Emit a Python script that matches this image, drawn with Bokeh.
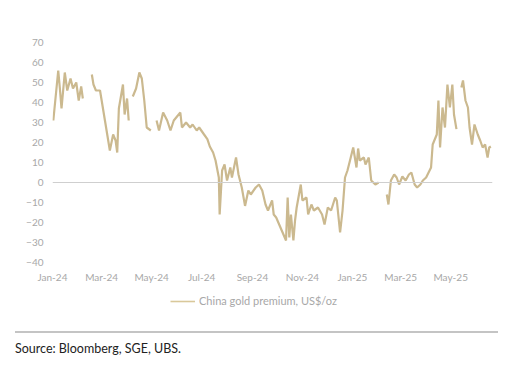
import numpy as np
import pandas as pd
from bokeh.plotting import figure
from bokeh.models import (FixedTicker, DatetimeTickFormatter, Span, Legend, LegendItem,
                          ColumnDataSource, Div, Range1d)
from bokeh.layouts import column
from bokeh.embed import file_html
from bokeh.resources import INLINE

nan = float("nan")

dates = [
    "2024-01-02", "2024-01-08", "2024-01-10", "2024-01-12", "2024-01-16", "2024-01-19",
    "2024-01-23", "2024-01-26", "2024-01-30", "2024-02-02", "2024-02-05", "2024-02-07",
    "2024-02-12", "2024-02-18", "2024-02-20", "2024-02-23", "2024-02-28", "2024-03-01",
    "2024-03-05", "2024-03-11", "2024-03-15", "2024-03-18", "2024-03-20", "2024-03-22",
    "2024-03-27", "2024-03-29", "2024-04-01", "2024-04-03", "2024-04-05", "2024-04-08",
    "2024-04-12", "2024-04-16", "2024-04-19", "2024-04-22", "2024-04-25", "2024-04-30",
    "2024-05-03", "2024-05-07", "2024-05-10", "2024-05-15", "2024-05-20", "2024-05-24",
    "2024-05-28", "2024-05-31", "2024-06-05", "2024-06-07", "2024-06-12", "2024-06-17",
    "2024-06-20", "2024-06-25", "2024-06-28", "2024-07-04", "2024-07-08", "2024-07-11",
    "2024-07-15", "2024-07-18", "2024-07-22", "2024-07-23", "2024-07-26", "2024-07-29",
    "2024-08-01", "2024-08-05", "2024-08-07", "2024-08-12", "2024-08-15", "2024-08-19",
    "2024-08-23", "2024-08-27", "2024-08-30", "2024-09-05", "2024-09-09", "2024-09-13",
    "2024-09-17", "2024-09-20", "2024-09-25", "2024-09-27", "2024-09-30", "2024-10-12",
    "2024-10-14", "2024-10-16", "2024-10-18", "2024-10-21", "2024-10-23", "2024-10-25",
    "2024-10-30", "2024-11-01", "2024-11-06", "2024-11-08", "2024-11-12", "2024-11-15",
    "2024-11-20", "2024-11-25", "2024-11-28", "2024-12-02", "2024-12-06", "2024-12-11",
    "2024-12-13", "2024-12-17", "2024-12-20", "2024-12-23", "2024-12-26", "2024-12-30",
    "2025-01-02", "2025-01-06", "2025-01-08", "2025-01-10", "2025-01-15", "2025-01-17",
    "2025-01-21", "2025-01-24", "2025-01-29", "2025-02-02", "2025-02-07", "2025-02-12",
    "2025-02-14", "2025-02-17", "2025-02-21", "2025-02-24", "2025-02-27", "2025-03-03",
    "2025-03-07", "2025-03-11", "2025-03-14", "2025-03-18", "2025-03-21", "2025-03-25",
    "2025-03-28", "2025-04-01", "2025-04-07", "2025-04-09", "2025-04-14", "2025-04-16",
    "2025-04-18", "2025-04-21", "2025-04-24", "2025-04-27", "2025-04-30", "2025-05-03",
    "2025-05-05", "2025-05-08", "2025-05-11", "2025-05-14", "2025-05-16", "2025-05-19",
    "2025-05-22", "2025-05-24", "2025-05-27", "2025-05-30", "2025-06-03", "2025-06-06",
    "2025-06-09", "2025-06-12", "2025-06-15", "2025-06-17", "2025-06-19",
]

premium = [
    31, 56, 47, 37, 55, 46,
    52, 47, 50, 41, 48, 42,
    nan, 54, 49, 46, 46, 41,
    31, 16, 24, 21, 15, 37,
    49, 34, 42, 31, nan, 43,
    47, 55, 52, 41, 27.5, 26,
    nan, 31, 26, 35, 31, 26,
    31, 32.5, 35, 27.5, 30, 27.5,
    29, 26, 27.5, 24, 21.7, 18,
    15, 11, 2.5, -16, 6, 9,
    1, 7.5, 2.5, 12.5, 4, -2.5,
    -11.7, -4, -6, -2.5, -1, -4,
    -11, -14, -9, -16, -17.5, -29,
    -7.5, -27.5, -16, -29, -19, -12.5,
    -1, -9, -7.5, -16, -11, -14,
    -12.5, -16, -21, -12.5, -14, -7.5,
    -9, -25, -14, 2.5, 6, 12.5,
    17.5, 7.5, 17, 11, 12.5, 9,
    12.5, 1, -1, 0, nan, -6,
    -11, 1, 4, 2.5, -1, 3,
    1, 4, 5, -1, -2.5, -1,
    1, 2.5, 7.5, 19, 24, 41,
    17.5, 37.5, 27.5, 49, 37.5, 49,
    34, 26.7, nan, 47.5, 51, 41,
    37.5, 27.5, 19, 29, 24, 21,
    17.5, 19, 12.5, 17.5, 18,
]

tick_dates = ["2024-01-01", "2024-03-01", "2024-05-01", "2024-07-01", "2024-09-01",
              "2024-11-01", "2025-01-01", "2025-03-01", "2025-05-01"]
y_ticks = [-40, -30, -20, -10, 0, 10, 20, 30, 40, 50, 60, 70]
series_label = "China gold premium, US$/oz"
source_text = "Source: Bloomberg, SGE, UBS."

LINE = "#cbb98f"
GREY = "#a8a8a8"
FONT = "Lato"

src = ColumnDataSource(dict(x=pd.to_datetime(dates), y=np.array(premium, dtype=float)))

x0 = pd.Timestamp("2024-01-01")
x1 = pd.Timestamp("2025-06-21")

p = figure(width=510, height=286, output_backend="svg", toolbar_location=None,
           x_axis_type="datetime",
           x_range=Range1d(x0, x1), y_range=Range1d(-40, 70),
           min_border_left=52, min_border_right=18, min_border_top=42, min_border_bottom=24)
p.outline_line_color = None
p.grid.grid_line_color = None
p.background_fill_color = "white"
p.border_fill_color = "white"

r = p.line("x", "y", source=src, line_color=LINE, line_width=2.2)

p.add_layout(Span(location=0, dimension="width", line_color="#cfcfcf", line_width=1))

tick_ms = [pd.Timestamp(d).value / 1e6 for d in tick_dates]
p.xaxis.ticker = FixedTicker(ticks=tick_ms)
fmt = "%b-%y"
p.xaxis.formatter = DatetimeTickFormatter(microseconds=fmt, milliseconds=fmt, seconds=fmt,
                                          minsec=fmt, minutes=fmt, hourmin=fmt, hours=fmt,
                                          days=fmt, months=fmt, years=fmt)
p.yaxis.ticker = FixedTicker(ticks=y_ticks)

for ax in (p.xaxis[0], p.yaxis[0]):
    ax.axis_line_color = None
    ax.major_tick_line_color = None
    ax.minor_tick_line_color = None
    ax.major_tick_out = 0
    ax.major_label_text_color = GREY
    ax.major_label_text_font = FONT
    ax.major_label_text_font_size = "10px"
p.xaxis.major_label_standoff = 8
p.yaxis.major_label_standoff = 9

# legend strip: a small axis-less figure that only carries the legend
# (its frame is aligned with the main chart's frame by the column layout)
lg = figure(width=510, height=30, output_backend="svg", toolbar_location=None,
            x_axis_location=None, y_axis_location=None,
            x_range=Range1d(0, 1), y_range=Range1d(0, 1),
            min_border_left=0, min_border_right=0, min_border_top=0, min_border_bottom=0)
lg.grid.grid_line_color = None
lg.outline_line_color = None
lr = lg.line("x", "y", source=src, line_color="#d9c89a", line_width=1.6)
legend = Legend(items=[LegendItem(label=series_label, renderers=[lr])],
                location=(118, 9), orientation="horizontal",
                glyph_width=25, glyph_height=12, label_height=12, label_standoff=4,
                padding=0, margin=0, border_line_color=None, background_fill_alpha=0,
                label_text_font=FONT, label_text_font_size="11px", label_text_color=GREY)
lg.add_layout(legend)

div = Div(text=f'<div style="margin-left:15px;margin-top:15px;width:483px;border-top:2px solid #c4c4c4;'
               f'padding-top:7px;font-family:Lato;font-size:12.5px;color:#222">{source_text}</div>',
          width=510, height=45, margin=(0, 0, 0, 0))

layout = column(p, lg, div, spacing=0)

open("out.html", "w").write(file_html(layout, INLINE))
